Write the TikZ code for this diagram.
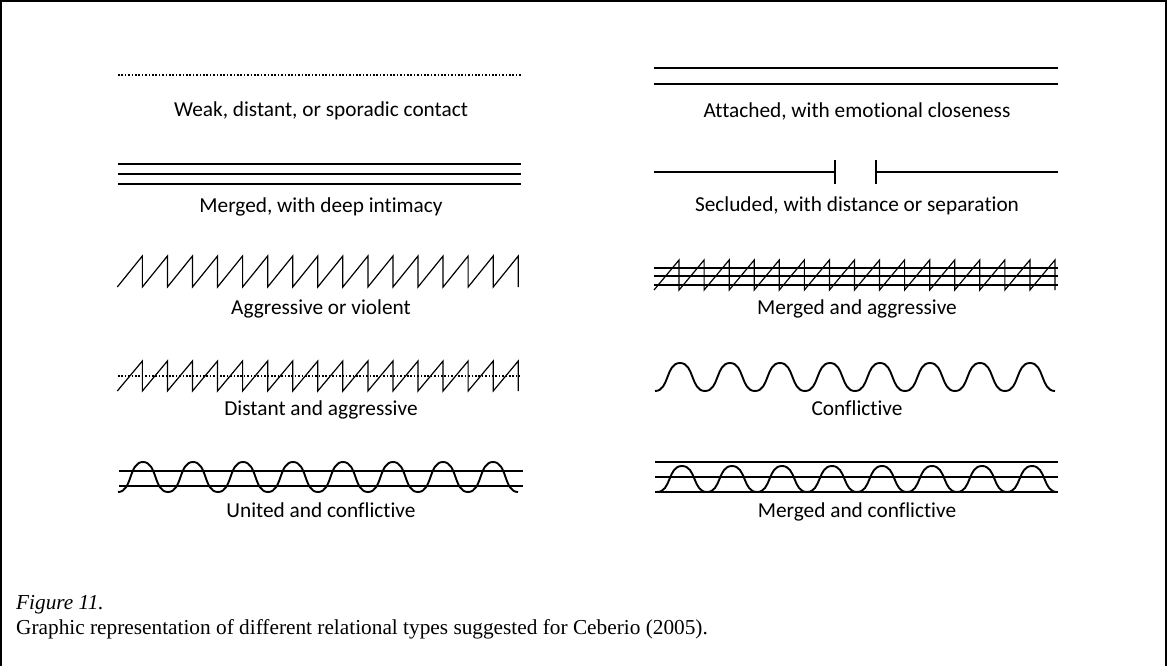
\documentclass[tikz,border=0pt]{standalone}
\usepackage{fontspec}
\setmainfont{Carlito}[Ligatures=NoCommon]
\newfontfamily\capfont{Liberation Serif}
\begin{document}
\begin{tikzpicture}[x=1pt,y=-1pt,
  lab/.style={anchor=base,inner sep=0pt,font=\fontsize{21.3}{25}\selectfont},
  captext/.style={anchor=base west,inner sep=0pt,font=\capfont\fontsize{21.3}{25}\selectfont},
  solidline/.style={line width=1.4pt},
  sawline/.style={line width=1.2pt,line join=miter},
  waveline/.style={line width=1.9pt},
  dotline/.style={line width=2.1pt,dash pattern=on 1.6pt off 1.8pt},
  frameline/.style={line width=2pt}]
\useasboundingbox (0,0) rectangle (1167,666);

% outer frame (left, top, right)
\draw[frameline] (1,666) -- (1,1) -- (1166,1) -- (1166,666);

% sawtooth: x0, top, bottom, number of teeth
\newcommand\drawsaw[4]{%
  \draw[sawline] (#1,#3) \foreach \k in {1,...,#4} {
    -- ({#1+\k*25.06},#2) -- ({#1+\k*25.06},#3) };}
% wave: x0 (trough), top, bottom, number of periods
\newcommand\drawwave[4]{%
  \draw[waveline] (#1,#3) \foreach \k in {0,...,\numexpr#4-1\relax} {
    .. controls ({#1+50*\k+14.5},#3) and ({#1+50*\k+10.5},#2) .. ({#1+50*\k+25},#2)
    .. controls ({#1+50*\k+39.5},#2) and ({#1+50*\k+35.5},#3) .. ({#1+50*\k+50},#3) };}

% ---- left column ----
% weak, distant or sporadic
\draw[dotline] (118,75) -- (521,75);
\node[lab] (weak) at (321,117) {Weak, distant, or sporadic contact};

% merged
\draw[solidline] (118,164) -- (521,164);
\draw[solidline] (118,174) -- (521,174);
\draw[solidline] (118,184) -- (521,184);
\node[lab] (merged) at (321,212) {Merged, with deep intimacy};

% aggressive
\drawsaw{117.3}{256}{287}{16}
\node[lab] (aggr) at (321,314) {Aggressive or violent};

% distant and aggressive
\draw[dotline] (118,376) -- (520,376);
\drawsaw{117.3}{361}{391}{16}
\node[lab] (distaggr) at (321,415) {Distant and aggressive};

% united and conflictive
\draw[solidline] (119,471) -- (523,471);
\draw[solidline] (119,486) -- (523,486);
\drawwave{118}{462}{492}{8}
\node[lab] (unitconf) at (321,517) {United and conflictive};

% ---- right column ----
% attached
\draw[solidline] (654,68) -- (1058,68);
\draw[solidline] (654,84) -- (1058,84);
\node[lab] (attached) at (857,117.5) {Attached, with emotional closeness};

% secluded
\coordinate (sl0) at (654,172);
\coordinate (sl1) at (835,172);
\coordinate (sr0) at (876,172);
\coordinate (sr1) at (1058,172);
\draw[solidline] (sl0) -- (sl1);
\draw[solidline] (sr0) -- (sr1);
\draw[solidline] (835,160) -- (835,184);
\draw[solidline] (876,160) -- (876,184);
\node[lab] (secluded) at (857,211) {Secluded, with distance or separation};

% merged and aggressive
\draw[solidline] (654,268) -- (1058,268);
\draw[solidline] (654,276) -- (1058,276);
\draw[solidline] (654,285) -- (1058,285);
\drawsaw{654}{260}{290}{16}
\node[lab] (mergaggr) at (857,314) {Merged and aggressive};

% conflictive
\drawwave{655}{363}{391}{8}
\node[lab] (conf) at (857,415) {Conflictive};

% merged and conflictive
\draw[solidline] (655,462) -- (1058,462);
\draw[solidline] (655,477) -- (1058,477);
\draw[solidline] (655,492) -- (1058,492);
\drawwave{657}{466}{492}{8}
\node[lab] (mergconf) at (857,517) {Merged and conflictive};

% caption
\node[captext] (fignum) at (16,609) {\itshape Figure 11.};
\node[captext] (figtext) at (16,634) {Graphic representation of different relational types suggested for Ceberio (2005).};
\end{tikzpicture}
\end{document}
